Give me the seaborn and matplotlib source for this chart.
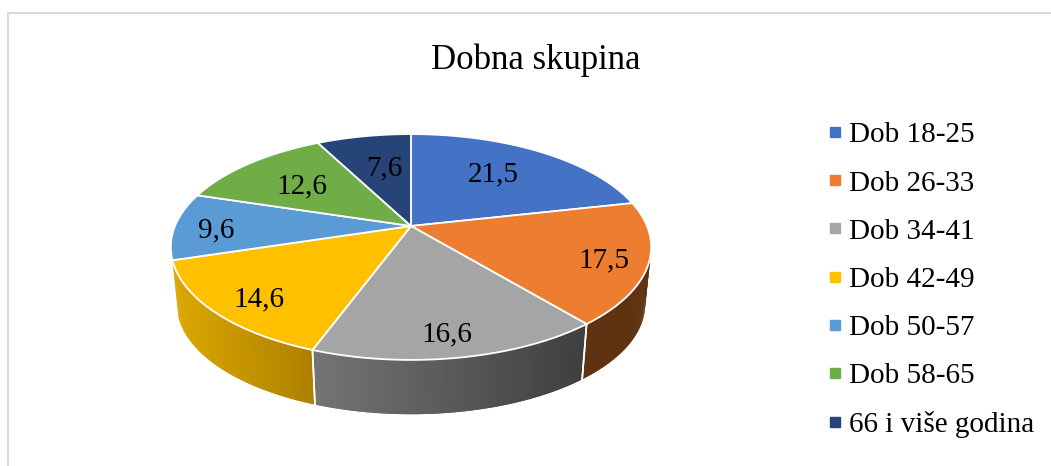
import numpy as np
import matplotlib
matplotlib.use("Agg")
import matplotlib.pyplot as plt
from matplotlib.lines import Line2D
import seaborn as sns

title = "Dobna skupina"
categories = ["Dob 18-25", "Dob 26-33", "Dob 34-41", "Dob 42-49",
              "Dob 50-57", "Dob 58-65", "66 i više godina"]
values = [21.5, 17.5, 16.6, 14.6, 9.6, 12.6, 7.6]
value_labels = ["21,5", "17,5", "16,6", "14,6", "9,6", "12,6", "7,6"]
colors = ["#4472C4", "#ED7D31", "#A5A5A5", "#FFC000", "#5B9BD5", "#70AD47", "#264478"]

# layout (pixels of the 1051x466 canvas)
label_pos = [(493, 174), (604, 260), (447, 334), (259, 299), (216, 230), (302, 186), (384, 168)]
side_left = {1: (0x5f, 0x32, 0x12), 2: (0x75, 0x75, 0x75), 3: (0xdb, 0xa8, 0x00)}
side_right = {1: (0x5f, 0x32, 0x12), 2: (0x3f, 0x3f, 0x3f), 3: (0xae, 0x80, 0x00)}

sns.set_theme(style="white")
plt.rcParams["font.family"] = ["Liberation Serif", "DejaVu Serif"]
palette = sns.color_palette(colors)

fig = plt.figure(figsize=(10.51, 4.66), dpi=100)
ax = fig.add_axes([0, 0, 1, 1])
ax.set_xlim(0, 1051)
ax.set_ylim(466, 0)
ax.axis("off")

K = 0.186


def project(theta, radius=1.0, base=False):
    u = radius * np.sin(theta)
    v = radius * np.cos(theta)
    w = 1 + K * v
    if base:
        return 411 + 230 * u / w, 284 - 106 * v / w
    return 411 + 236 * u / w, 226 - 109 * v / w


edges = np.deg2rad(np.cumsum([0] + values) * 3.6)

# extruded rim, front part only, shaded in narrow overlapping strips
for i, (a, b) in enumerate(zip(edges[:-1], edges[1:])):
    lo, hi = max(a, np.deg2rad(90)), min(b, np.deg2rad(262))
    if lo >= hi or i not in side_left:
        continue
    grid = np.linspace(lo, hi, 90)
    xmin, xmax = min(project(grid)[0]), max(project(grid)[0])
    for j in range(len(grid) - 1):
        t0, t1 = grid[j], grid[min(j + 2, len(grid) - 1)]
        xt, yt = project(np.array([t0, t1]))
        xb, yb = project(np.array([t1, t0]), base=True)
        f = np.clip((project(grid[j])[0] - xmin) / max(xmax - xmin, 1), 0, 1)
        col = [(l + (r - l) * f) / 255 for l, r in zip(side_left[i], side_right[i])]
        ax.fill(np.r_[xt, xb], np.r_[yt, yb], facecolor=col, edgecolor="none", lw=0, zorder=1)
    # white seam between neighbouring rim segments
    for edge in (a, b):
        if np.deg2rad(110) < edge < np.deg2rad(250):
            xs = [project(edge)[0], project(edge, base=True)[0]]
            ys = [project(edge)[1], project(edge, base=True)[1]]
            ax.plot(xs, ys, color="white", lw=1.2, zorder=2)

# top face
for a, b, col in zip(edges[:-1], edges[1:], palette):
    t = np.linspace(a, b, 120)
    x, y = project(t)
    ax.fill(np.r_[411, x], np.r_[226, y], facecolor=col, edgecolor="white",
            lw=1.3, joinstyle="round", zorder=3)

for (x, y), text in zip(label_pos, value_labels):
    ax.text(x, y, text, fontsize=21, color="black", ha="center", va="center", zorder=5)

ax.text(536, 60, title, fontsize=25, color="black", ha="center", va="center")

handles = [Line2D([], [], ls="none", marker="s", markersize=6.6, markerfacecolor=c,
                  markeredgecolor=c, label=n) for c, n in zip(palette, categories)]
ax.legend(handles=handles, loc="upper left", bbox_to_anchor=(830 / 1051, 1 - 122 / 466),
          frameon=False, fontsize=21, labelspacing=0.745, handlelength=0.35,
          handletextpad=0.31, borderpad=0, borderaxespad=0, labelcolor="black")

# chart frame, cut by the picture edge at right and bottom
ax.plot([8, 8, 1051], [466, 13, 13], color="#D9D9D9", lw=1.5, zorder=0, solid_joinstyle="miter")

fig.savefig("out.png", dpi=100, facecolor="white")
